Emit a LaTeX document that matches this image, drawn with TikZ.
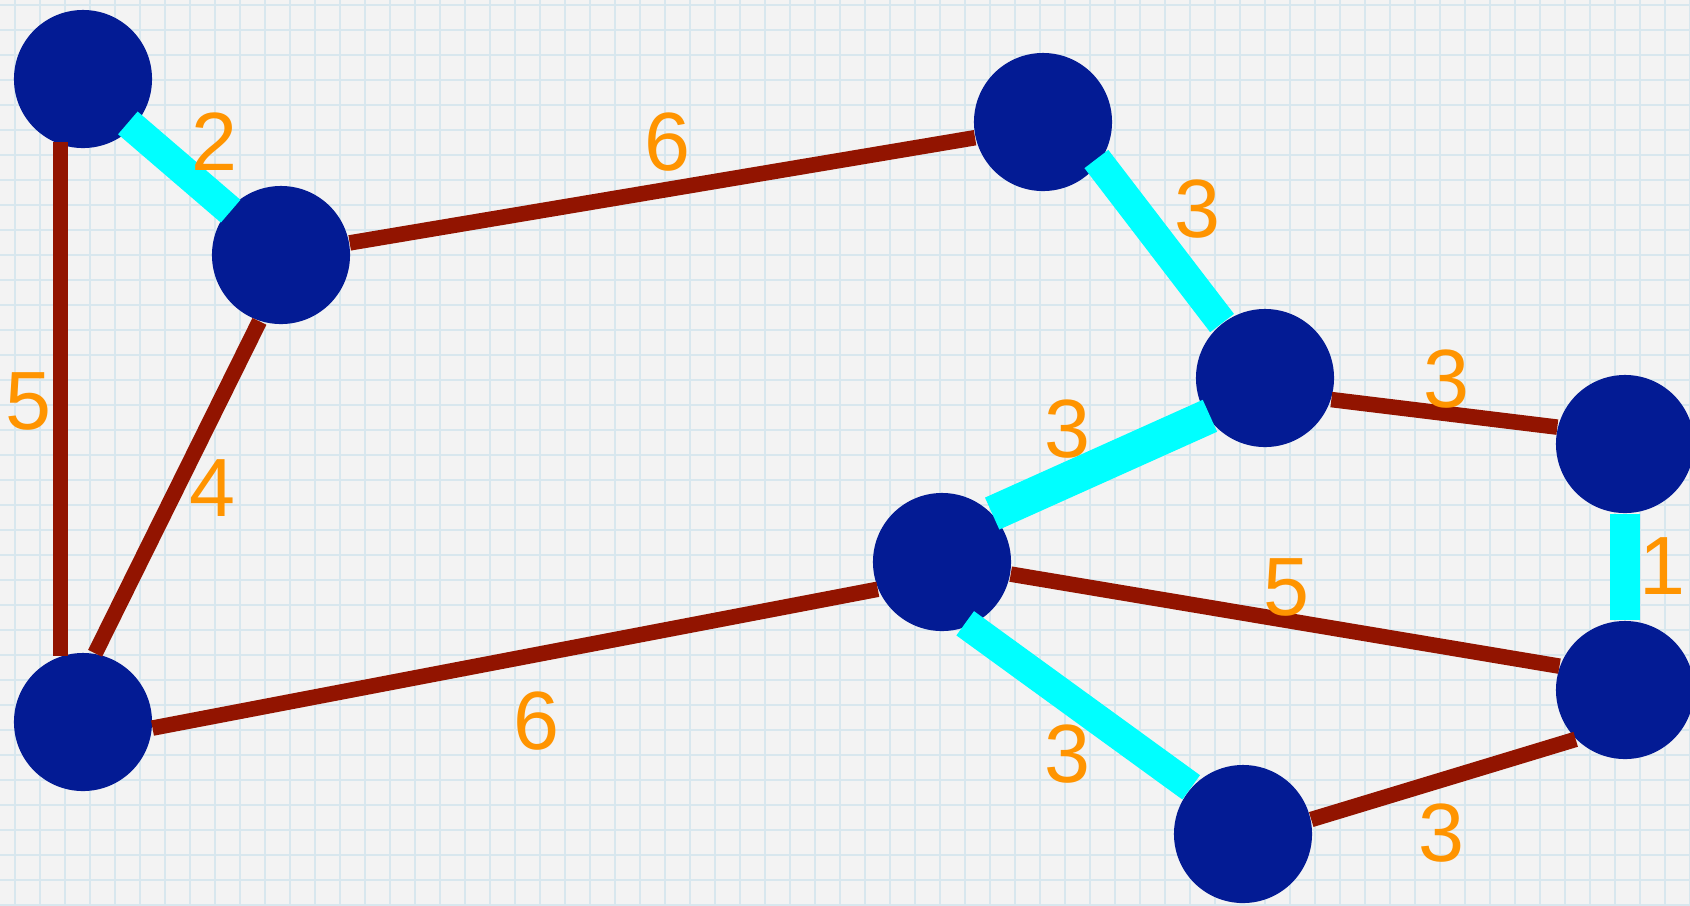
\documentclass[tikz,border=0pt]{standalone}
\usepackage{fontspec}
\setmainfont{Liberation Sans}
\definecolor{bgpaper}{RGB}{243,243,243}
\definecolor{gridblue}{RGB}{216,231,238}
\definecolor{vertexblue}{RGB}{3,27,148}
\definecolor{treecyan}{RGB}{0,255,255}
\definecolor{edgebrown}{RGB}{146,20,0}
\definecolor{weightorange}{RGB}{255,148,0}
\tikzset{
  gridline/.style={draw=gridblue, line width=0.022cm},
  vertex/.style={circle, fill=vertexblue, minimum size=1.38cm, inner sep=0pt},
  plainedge/.style={draw=edgebrown, line width=0.155cm},
  treeedge/.style={draw=treecyan, line width=0.30cm},
  weight/.style={text=weightorange, inner sep=0pt, font=\fontsize{23.5}{28}\selectfont},
}
\begin{document}
\begin{tikzpicture}[x=0.01cm, y=-0.01cm]
  \useasboundingbox (0,0) rectangle (1690,905);
  \clip (0,0) rectangle (1690,905);
  % squared paper
  \fill[bgpaper] (0,0) rectangle (1690,905);
  \foreach \x in {15,40,...,1690} \draw[gridline] (\x,0) -- (\x,905);
  \foreach \y in {5,30,...,905} \draw[gridline] (0,\y) -- (1690,\y);

  % vertices
  \node[vertex] (n1) at (83,79) {};
  \node[vertex] (n2) at (281,255) {};
  \node[vertex] (n3) at (1043,122) {};
  \node[vertex] (n4) at (1265,378) {};
  \node[vertex] (n5) at (1625,444) {};
  \node[vertex] (n6) at (1625,690) {};
  \node[vertex] (n7) at (942,562) {};
  \node[vertex] (n8) at (1243,834) {};
  \node[vertex] (n9) at (83,722) {};

  % edges outside the tree
  \draw[plainedge, shorten <=-0.03cm] (n1.251) -- (n9.109);
  \draw[plainedge] (n2.10) -- (n3.193);
  \draw[plainedge] (n2.252) -- (n9.80);
  \draw[plainedge] (n4.342) -- (n5.166);
  \draw[plainedge] (n7.350) -- (n6.160);
  \draw[plainedge] (n8.12) -- (n6.225);
  \draw[plainedge] (n9.355) -- (n7.203);

  % spanning tree edges
  \draw[treeedge, shorten <=-0.07cm, shorten >=-0.03cm] (n1.316) -- (n2.139);
  \draw[treeedge, shorten <=-0.05cm] (n3.324) -- (n4.128);
  \draw[treeedge, line width=0.35cm, shorten <=-0.03cm] (n4.214) -- (n7.44);
  \draw[treeedge] (n5.270) -- (n6.90);
  \draw[treeedge, shorten <=-0.05cm] (n7.293) -- (n8.138);

  % weights
  \node[weight] (w12) at (214,142) {2};
  \node[weight] (w23) at (667,142) {6};
  \node[weight] (w34) at (1197,209) {3};
  \node[weight] (w45) at (1446,379) {3};
  \node[weight] (w47) at (1067,429) {3};
  \node[weight] (w56) at (1662,566) {1};
  \node[weight] (w76) at (1286,587) {5};
  \node[weight] (w78) at (1067,754) {3};
  \node[weight] (w86) at (1441,833) {3};
  \node[weight] (w97) at (536,721) {6};
  \node[weight] (w19) at (28,401) {5};
  \node[weight] (w29) at (212,488) {4};
\end{tikzpicture}
\end{document}
